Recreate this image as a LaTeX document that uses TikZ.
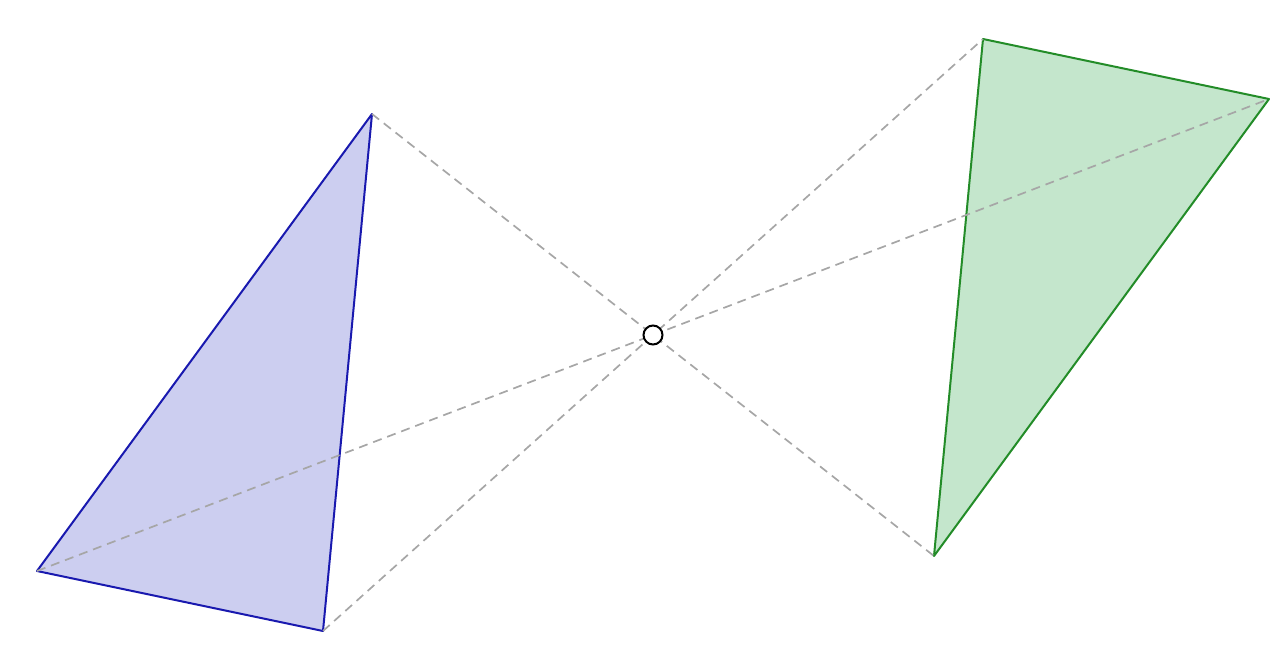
\documentclass[tikz,border=0pt]{standalone}
\begin{document}
\begin{tikzpicture}[x=1pt,y=-1pt,
  tri/.style={line width=2pt,line join=round},
  ray/.style={dash pattern=on 9pt off 6pt,line width=1.7pt,draw=gray!70},
  ctr/.style={circle,draw=black,fill=white,line width=2pt,minimum size=19pt,inner sep=0pt}]
\definecolor{bfill}{RGB}{204,206,240}
\definecolor{bline}{RGB}{25,25,175}
\definecolor{gfill}{RGB}{196,230,204}
\definecolor{gline}{RGB}{35,140,40}
\useasboundingbox (0,0) rectangle (1288,648);
\coordinate (A) at (372,114);
\coordinate (B) at (37,571);
\coordinate (C) at (323,631);
\coordinate (A2) at (934,556);
\coordinate (B2) at (1269,99);
\coordinate (C2) at (983,39);
\filldraw[tri,fill=bfill,draw=bline] (A) -- (B) -- (C) -- cycle;
\filldraw[tri,fill=gfill,draw=gline] (A2) -- (B2) -- (C2) -- cycle;
\draw[ray] (A) -- (A2);
\draw[ray] (B) -- (B2);
\draw[ray] (C) -- (C2);
\node[ctr] (O) at (653,335) {};
\end{tikzpicture}
\end{document}
